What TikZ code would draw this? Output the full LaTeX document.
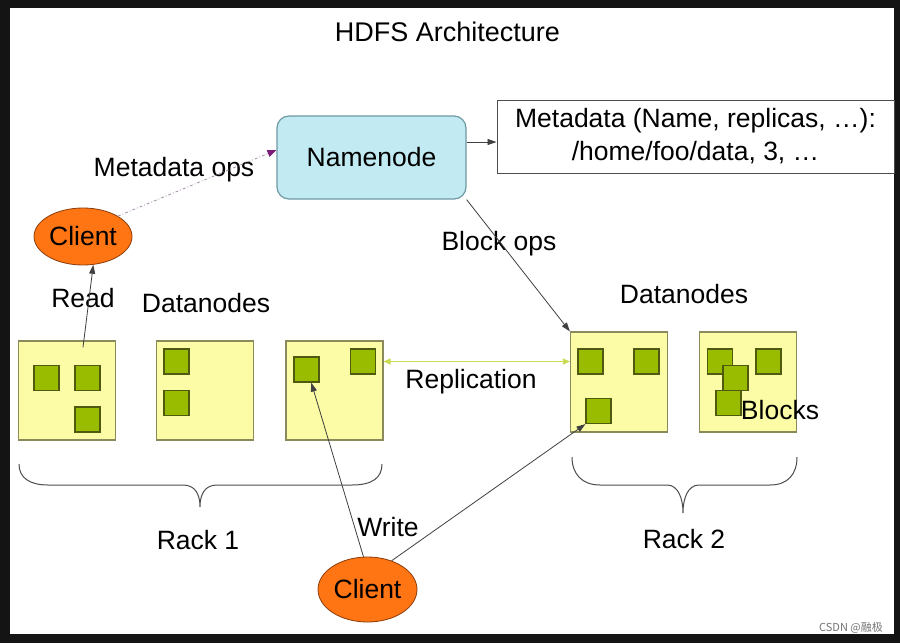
\documentclass[tikz,border=0pt]{standalone}
\usepackage{fontspec}
\setmainfont{Liberation Sans}
\newfontfamily\cjkfont{Noto Sans CJK SC}
\usetikzlibrary{arrows.meta, calc, positioning, shapes.geometric}

\definecolor{namefill}{HTML}{C2EAF2}
\definecolor{nameline}{HTML}{6E9AA3}
\definecolor{dnfill}{HTML}{FCFCA6}
\definecolor{dnline}{HTML}{8A8A5C}
\definecolor{blkfill}{HTML}{99BB00}
\definecolor{blkline}{HTML}{4F5A10}
\definecolor{clfill}{HTML}{FF7514}
\definecolor{clline}{HTML}{8C3C0A}
\definecolor{repline}{HTML}{C8DA4E}
\definecolor{opsline}{HTML}{A58FA8}
\definecolor{opstip}{HTML}{7B1C7B}

\begin{document}
\begin{tikzpicture}[% styles used in image code
x = 1pt, y = -1pt,
         > = {Triangle[length=9pt,width=6pt]}, % arrows.meta
lbl/.style = {font=\fontsize{26.5}{33}\selectfont, inner sep=0pt},
dnode/.style = {draw=dnline, fill=dnfill, line width=1.2pt,
              minimum width=97pt, minimum height=99pt,
              inner sep=0pt, node contents={}},
blk/.style = {draw=blkline, fill=blkfill, line width=1.2pt,
              minimum size=25pt, inner sep=0pt, node contents={}},
client/.style = {ellipse, draw=clline, fill=clfill, line width=0.8pt,
              inner sep=0pt, lbl},
rack/.style = {draw=black!70, line width=1pt},
link/.style = {draw=black!75, line width=0.8pt, ->}
                        ]
	% screenshot frame
	\useasboundingbox (0,0) rectangle (900,643);
	\fill[black!92] (0,0) rectangle (900,643);
	\fill[white] (10,8) rectangle (894,634);

	\node[font=\fontsize{27}{33}\selectfont, inner sep=0pt] (title) at (447.5,32) {HDFS Architecture};

	% namenode and its metadata
	\node[draw=nameline, fill=namefill, line width=1.2pt, rounded corners=12pt,
	      minimum width=189pt, minimum height=83pt, lbl] (nn) at (371.5,157.5) {Namenode};
	\node[draw=black!70, line width=1pt, minimum width=397pt, minimum height=73pt,
	      align=center, lbl] (meta) at (695.5,136.5)
	      {Metadata (Name, replicas, …):\\/home/foo/data, 3, …};
	\path ([yshift=15.5pt]nn.east) coordinate (nnout);
	\draw[link] (nnout) -- (nnout -| meta.west);

	% clients
	\node[client, minimum width=98pt, minimum height=57pt] (rclient) at (83,236.5) {Client};
	\node[client, minimum width=99pt, minimum height=65pt] (wclient) at (367.5,589.5) {Client};

	% rack 1
	\node (dn1) at (67,390.5) [dnode];
	\node (dn2) at (205,390.5) [dnode];
	\node (dn3) at (334.5,390.5) [dnode];
	\node (b11) at (46.5,378) [blk];
	\node (b12) at (87.5,378) [blk];
	\node (b13) at (87.5,419.5) [blk];
	\node (b21) at (176.5,361.5) [blk];
	\node (b22) at (176.5,403) [blk];
	\node (b31) at (306.5,369.5) [blk];
	\node (b32) at (363,361.5) [blk];

	% rack 2
	\node (dn4) at (619,382) [dnode, minimum height=100pt];
	\node (dn5) at (748,382) [dnode, minimum height=100pt];
	\node (b41) at (590.5,361.5) [blk];
	\node (b42) at (646.5,361.5) [blk];
	\node (b43) at (598.5,411) [blk];
	\node (b51) at (720,361.5) [blk];
	\node (b52) at (735.5,378) [blk];
	\node (b53) at (728.5,403) [blk];
	\node (b54) at (768.5,361.5) [blk];

	% labels
	\node[lbl] (mops)  at (174,170) {Metadata ops};
	\node[lbl] (read)  at (83,298)  {Read};
	\node[lbl] (dlbl1) at (206,303) {Datanodes};
	\node[lbl] (bops)  at (499,244) {Block ops};
	\node[lbl] (dlbl2) at (684,294) {Datanodes};
	\node[lbl] (repl)  at (471,382) {Replication};
	\node[lbl] (blks)  at (780,410) {Blocks};
	\node[lbl] (write) at (388,527) {Write};
	\node[lbl] (rack1) at (198,540) {Rack 1};
	\node[lbl] (rack2) at (684,539) {Rack 2};

	% connectors
	\draw[opsline, line width=0.8pt, dash dot,
	      -{Triangle[length=9pt,width=7pt,color=opstip]}]
	      (rclient.north east) -- ([yshift=7.5pt]nn.west);
	\coordinate (rd) at ($(dn1.north)+(16,7)$);
	\draw[link] (rd) -- (rclient.-70);
	\draw[link] (nn.south east) -- (dn4.north west);
	\draw[repline, line width=0.8pt,
	      {Triangle[length=7pt,width=6pt]}-{Triangle[length=7pt,width=6pt]}]
	      (dn3.east |- b32) -- (dn4.west |- b41);
	\draw[link] (wclient.97) -- (b31.-70);
	\draw[link] (wclient.50) -- (b43.south west);

	% rack braces
	\draw[rack] (19,464) .. controls (19,478) and (30,485) .. (48,485) -- (183,485)
	      .. controls (195,485) and (200,494) .. (200,507)
	      .. controls (200,494) and (205,485) .. (217,485) -- (352,485)
	      .. controls (372,485) and (382,478) .. (382,464);
	\draw[rack] (572,457) .. controls (572,474) and (582,485) .. (600,485) -- (667,485)
	      .. controls (678,485) and (683,498) .. (683,513)
	      .. controls (683,498) and (688,485) .. (699,485) -- (770,485)
	      .. controls (788,485) and (797,474) .. (797,457);

	\node[font=\cjkfont\fontsize{11}{12}\selectfont, text=black!55, inner sep=0pt] (wm)
	      at (851,628) {CSDN @融极};
\end{tikzpicture}
\end{document}
